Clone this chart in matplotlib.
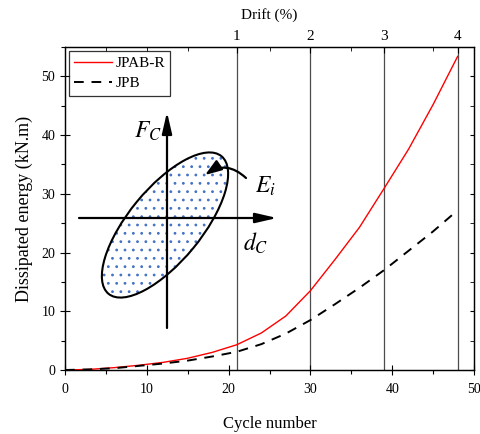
import matplotlib
matplotlib.use("Agg")
import matplotlib.pyplot as plt
from matplotlib.patches import Ellipse, FancyArrowPatch
from matplotlib.ticker import MultipleLocator

plt.rcParams["font.family"] = ["Liberation Serif", "DejaVu Serif"]
plt.rcParams["mathtext.fontset"] = "stix"
plt.rcParams["hatch.linewidth"] = 0.8

# data
cycles = [0, 3, 6, 9, 12, 15, 18, 21, 24, 27, 30, 33, 36, 39, 42, 45, 48]
jpab_r = [0, 0.1, 0.4, 0.8, 1.3, 2.0, 3.0, 4.3, 6.3, 9.2, 13.5, 18.8, 24.3, 30.9, 37.6, 45.2, 53.4]
jpb = [0, 0.1, 0.3, 0.7, 1.1, 1.6, 2.3, 3.1, 4.4, 6.2, 8.5, 11.2, 14.0, 17.0, 20.3, 23.6, 27.2]

drift_cycles = [21, 30, 39, 48]
drift_labels = ["1", "2", "3", "4"]

W, H = 481, 434
fig = plt.figure(figsize=(W / 100, H / 100), dpi=100)
ax = fig.add_axes([65 / W, 1 - 370 / H, 409 / W, 323 / H])

for c in drift_cycles:
    ax.axvline(c, color="0.3", lw=0.9, zorder=1)

ax.plot(cycles, jpab_r, color="red", lw=1.0, label="JPAB-R", zorder=3)
ax.plot(cycles, jpb, color="black", lw=1.4, ls=(0, (5, 4)), label="JPB", zorder=3)

ax.set_xlim(0, 50)
ax.set_ylim(0, 55)
ax.xaxis.set_major_locator(MultipleLocator(10))
ax.xaxis.set_minor_locator(MultipleLocator(5))
ax.yaxis.set_major_locator(MultipleLocator(10))
ax.yaxis.set_minor_locator(MultipleLocator(5))
ax.tick_params(axis="both", which="major", direction="inout", length=7, width=0.8, labelsize=10)
ax.tick_params(axis="both", which="minor", direction="out", length=3, width=0.8)
ax.tick_params(axis="x", pad=6)
for s in ax.spines.values():
    s.set_linewidth(0.9)

ax.set_xlabel("Cycle number", fontsize=12, labelpad=14)
ax.set_ylabel("Dissipated energy (kN.m)", fontsize=13, labelpad=6)

top = ax.twiny()
top.set_xlim(ax.get_xlim())
top.set_xticks(drift_cycles)
top.set_xticklabels(drift_labels)
top.set_xticks([5, 10, 15, 25, 35, 45], minor=True)
top.tick_params(axis="x", which="major", direction="in", length=4, labelsize=11, pad=3)
top.tick_params(axis="x", which="minor", direction="in", length=3)
top.set_xlabel("Drift (%)", fontsize=11, labelpad=8)

right = ax.twinx()
right.set_ylim(ax.get_ylim())
right.yaxis.set_major_locator(MultipleLocator(10))
right.yaxis.set_minor_locator(MultipleLocator(5))
right.tick_params(axis="y", which="both", direction="in", length=3, labelright=False)

leg = ax.legend(loc="upper left", frameon=True, fancybox=False, fontsize=11,
                handlelength=2.5, borderpad=0.35, labelspacing=0.45,
                handletextpad=0.2, borderaxespad=0.25)
leg.get_frame().set_edgecolor("black")
leg.get_frame().set_linewidth(0.9)

# schematic of a hysteresis loop, drawn in pixel space
ov = fig.add_axes([0, 0, 1, 1], zorder=5)
ov.set_xlim(0, W)
ov.set_ylim(0, H)
ov.axis("off")
ov.patch.set_alpha(0)

cx, cy = 165, H - 225
ov.add_patch(Ellipse((cx, cy), 178, 73, angle=50.6, facecolor="white",
                     edgecolor="#4472c4", hatch="..", lw=0))
ov.add_patch(Ellipse((cx, cy), 178, 73, angle=50.6, facecolor="none",
                     edgecolor="black", lw=1.5))

arrow_kw = dict(arrowstyle="-|>,head_length=1.3,head_width=0.3", color="black",
                lw=1.6, mutation_scale=10, shrinkA=0, shrinkB=0)
ov.add_patch(FancyArrowPatch((167, H - 328), (167, H - 112), **arrow_kw))
ov.add_patch(FancyArrowPatch((79, H - 218), (277, H - 218), **arrow_kw))
ov.add_patch(FancyArrowPatch((246, H - 178), (205, H - 175),
                             connectionstyle="arc3,rad=0.4",
                             arrowstyle="-|>,head_length=1.0,head_width=0.35",
                             color="black", lw=1.6, mutation_scale=10,
                             shrinkA=0, shrinkB=0))

ov.text(148, H - 131, "$F_C$", fontsize=17, ha="center", va="center")
ov.text(265, H - 186, "$E_i$", fontsize=17, ha="center", va="center")
ov.text(256, H - 243, "$d_C$", fontsize=17, ha="center", va="center")

fig.savefig("out.png", dpi=100)
